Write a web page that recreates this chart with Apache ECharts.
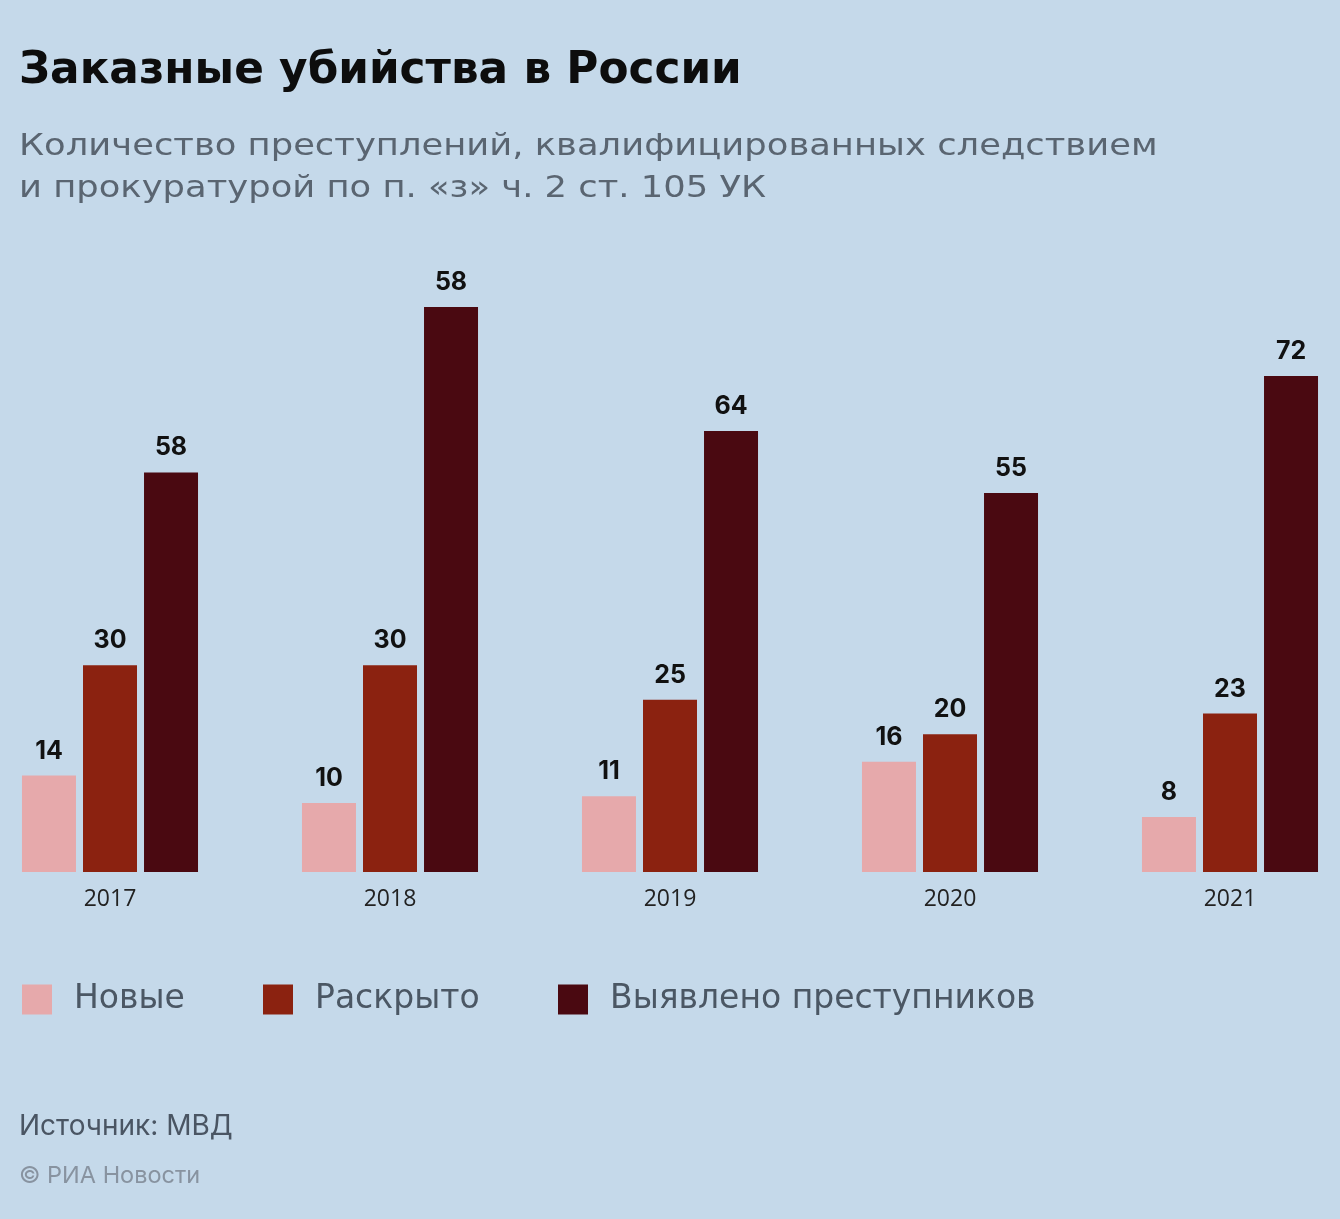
<!DOCTYPE html>
<html>
<head>
<meta charset="utf-8">
<script src="https://cdn.jsdelivr.net/npm/echarts@6/dist/echarts.min.js"></script>
<style>
html,body{margin:0;padding:0;background:#c5d9ea;}
#c{width:1340px;height:1219px;}
</style>
</head>
<body>
<div id="c"></div>
<script>
const years = ['2017', '2018', '2019', '2020', '2021'];
const seriesNames = ['Новые', 'Раскрыто', 'Выявлено преступников'];
const newCases = [14, 10, 11, 16, 8];
const solved = [30, 30, 25, 20, 23];
// bar heights as drawn in the reference (2018 bar is drawn taller than its label)
const offenders = [58, 82, 64, 55, 72];
const offendersLabels = ['58', '58', '64', '55', '72'];
const colors = ['#e6a9ab', '#8b2210', '#4a0911'];

const titleText = 'Заказные убийства в России';
const subtitleLines = ['Количество преступлений, квалифицированных следствием', 'и прокуратурой по п. «з» ч. 2 ст. 105 УК'];
const sourceText = 'Источник: МВД';
const copyrightText = '© РИА Новости';

const FONT = 'Inter, "Open Sans", "Noto Sans", sans-serif';
const WIDE = '"DejaVu Sans", Inter, sans-serif';
const chart = echarts.init(document.getElementById('c'));

function labelCfg(texts) {
  return {
    show: true, position: 'top', distance: 12,
    fontFamily: FONT, fontWeight: 'bold', fontSize: 25, color: '#111',
    formatter: texts ? (p => texts[p.dataIndex]) : '{c}'
  };
}

function txt(text, x, y, font, fill, sx) {
  return {
    type: 'text', x: x, y: y, scaleX: sx || 1, silent: true,
    style: { text: text, font: font, fill: fill, textAlign: 'left', textVerticalAlign: 'middle' }
  };
}

chart.setOption({
  backgroundColor: '#c5d9ea',
  graphic: [
    txt(titleText, 19, 72, 'bold 44px "DejaVu Sans", sans-serif', '#0d0d0d', 0.995),
    txt(subtitleLines[0], 19, 147, 'normal 31px "DejaVu Sans", sans-serif', '#5a6571', 1.14),
    txt(subtitleLines[1], 19, 189, 'normal 31px "DejaVu Sans", sans-serif', '#5a6571', 1.14),
    txt(sourceText, 19, 1127, 'normal 28px Inter, sans-serif', '#4a5563', 1.0),
    txt(copyrightText, 19, 1176, 'normal 23.5px Inter, sans-serif', '#8893a0', 1.0)
  ],
  legend: [0, 1, 2].map((i) => ({
    data: [seriesNames[i]],
    left: [17, 258, 553][i],
    top: 978,
    icon: 'rect', itemWidth: 30, itemHeight: 30,
    selectedMode: false,
    textStyle: { fontFamily: WIDE, fontSize: 33, color: '#4b5764', padding: [3, 0, 0, 17] }
  })),
  grid: { left: -30, width: 1400, top: 183, bottom: 347, outerBoundsMode: 'none', containLabel: false },
  xAxis: {
    type: 'category', data: years,
    axisLine: { show: false }, axisTick: { show: false },
    axisLabel: { margin: 16, fontFamily: '"Open Sans", sans-serif', fontSize: 23, color: '#222' }
  },
  yAxis: { type: 'value', min: 0, max: 100, show: false, splitLine: { show: false } },
  series: [
    { name: seriesNames[0], type: 'bar', data: newCases, barWidth: 54, barGap: '13%',
      itemStyle: { color: colors[0] }, label: labelCfg() },
    { name: seriesNames[1], type: 'bar', data: solved, barWidth: 54, barGap: '13%',
      itemStyle: { color: colors[1] }, label: labelCfg() },
    { name: seriesNames[2], type: 'bar', data: offenders, barWidth: 54, barGap: '13%',
      itemStyle: { color: colors[2] }, label: labelCfg(offendersLabels) }
  ],
  animation: false
});
</script>
</body>
</html>
